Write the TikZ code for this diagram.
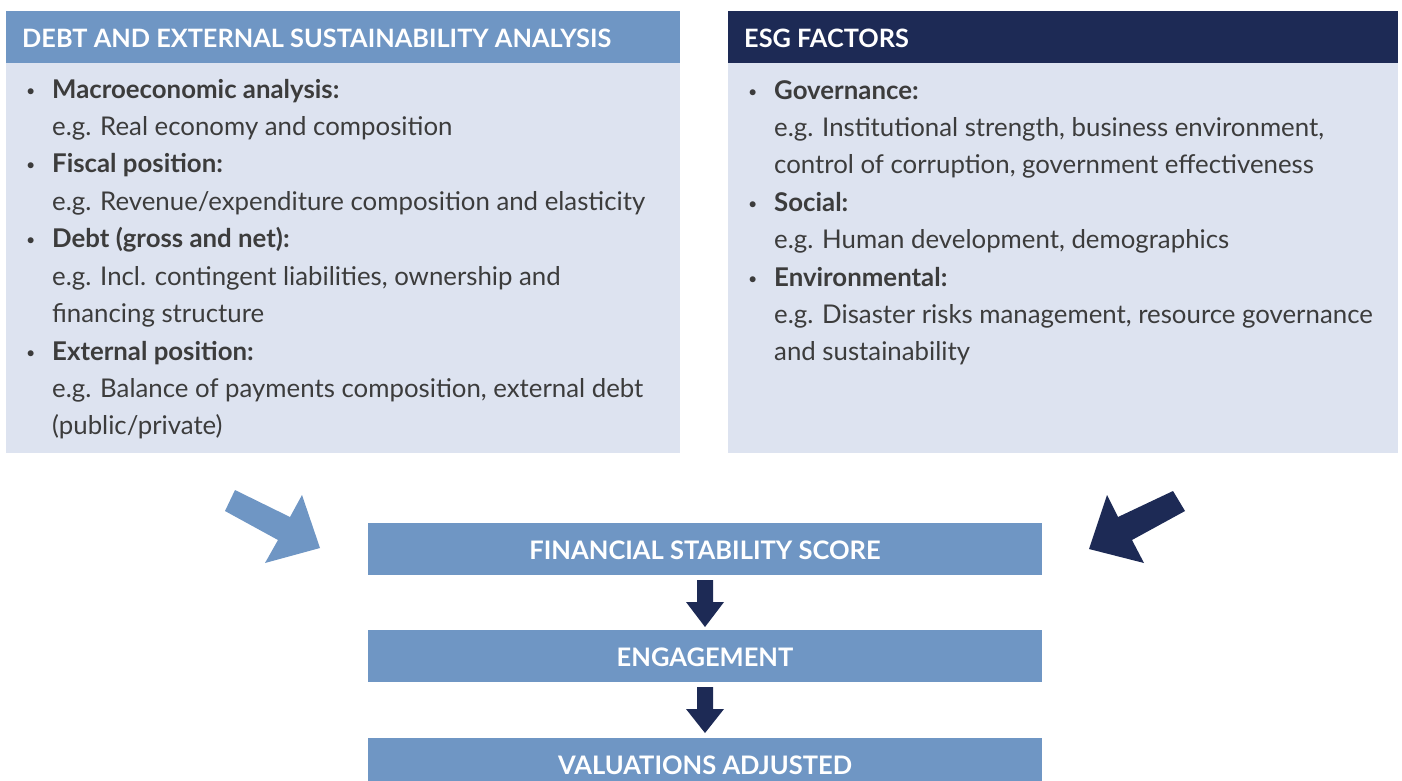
\documentclass[tikz,border=0pt]{standalone}
\usepackage{fontspec}
\setmainfont{Lato}
\usetikzlibrary{calc}
\definecolor{midblue}{HTML}{6F96C4}
\definecolor{lightbg}{HTML}{DDE3F0}
\definecolor{navy}{HTML}{1D2A55}
\definecolor{txt}{HTML}{3C3C3C}
\begin{document}
\begin{tikzpicture}[x=1pt,y=-1pt,
  line/.style={anchor=base west,inner sep=0pt,font=\fontsize{25.8}{30}\selectfont,text=txt},
  bul/.style={anchor=base west,inner sep=0pt,font=\fontsize{16}{20}\selectfont,text=txt},
  head/.style={anchor=base west,inner sep=0pt,font=\fontsize{25.3}{30}\selectfont\bfseries,text=white},
  boxtxt/.style={anchor=base,inner sep=0pt,font=\fontsize{25.5}{30}\selectfont\bfseries,text=white},
  stepbox/.style={fill=midblue}]
\useasboundingbox (0,0) rectangle (1402,780);
% panels
\fill[midblue] (6,11) rectangle (680,63);
\fill[lightbg] (6,63) rectangle (680,453);
\fill[navy] (728,11) rectangle (1398,63);
\fill[lightbg] (728,63) rectangle (1398,453);
\node[head] (h1) at (22,47) {DEBT AND EXTERNAL SUSTAINABILITY ANALYSIS};
\node[head] (h2) at (744,47) {ESG FACTORS};
% left list
\foreach \y in {96,170,245,358} \node[bul] at (26,\y) {•};
\node[line] (l1) at (52,98) {\bfseries Macroeconomic analysis:};
\node[line] (l2) at (52,135) {e.g. Real economy and composition};
\node[line] (l3) at (52,172) {\bfseries Fiscal position:};
\node[line] (l4) at (52,210) {e.g. Revenue/expenditure composition and elasticity};
\node[line] (l5) at (52,247) {\bfseries Debt (gross and net):};
\node[line] (l6) at (52,285) {e.g. Incl. contingent liabilities, ownership and};
\node[line] (l7) at (52,322) {financing structure};
\node[line] (l8) at (52,360) {\bfseries External position:};
\node[line] (l9) at (52,397) {e.g. Balance of payments composition, external debt};
\node[line] (l10) at (52,434) {(public/private)};
% right list
\foreach \y in {97,209,284} \node[bul] at (748,\y) {•};
\node[line] (r1) at (774,99) {\bfseries Governance:};
\node[line] (r2) at (774,136) {e.g. Institutional strength, business environment,};
\node[line] (r3) at (774,173) {control of corruption, government effectiveness};
\node[line] (r4) at (774,211) {\bfseries Social:};
\node[line] (r5) at (774,248) {e.g. Human development, demographics};
\node[line] (r6) at (774,286) {\bfseries Environmental:};
\node[line] (r7) at (774,323) {e.g. Disaster risks management, resource governance};
\node[line] (r8) at (774,360) {and sustainability};
% boxes
\fill[stepbox] (368,523) rectangle (1042,575);
\fill[stepbox] (368,630) rectangle (1042,682);
\fill[stepbox] (368,738) rectangle (1042,790);
\node[boxtxt] (b1) at (705,559) {FINANCIAL STABILITY SCORE};
\node[boxtxt] (b2) at (705,666) {ENGAGEMENT};
\node[boxtxt] (b3) at (705,774) {VALUATIONS ADJUSTED};
% small arrows
\fill[navy] (697,580) -- (713,580) -- (713,602) -- (724,602) -- (705,627) -- (686,602) -- (697,602) -- cycle;
\fill[navy] (697,687) -- (713,687) -- (713,709) -- (724,709) -- (705,733) -- (686,709) -- (697,709) -- cycle;
% big arrows
\fill[midblue] (235,490) -- (290,517) -- (302,495) -- (320,548) -- (265,563) -- (278,540) -- (225,511) -- cycle;
\fill[navy] (1173,491) -- (1118,517) -- (1107,495) -- (1089,549) -- (1144,563) -- (1132,540) -- (1185,511) -- cycle;
\end{tikzpicture}
\end{document}
